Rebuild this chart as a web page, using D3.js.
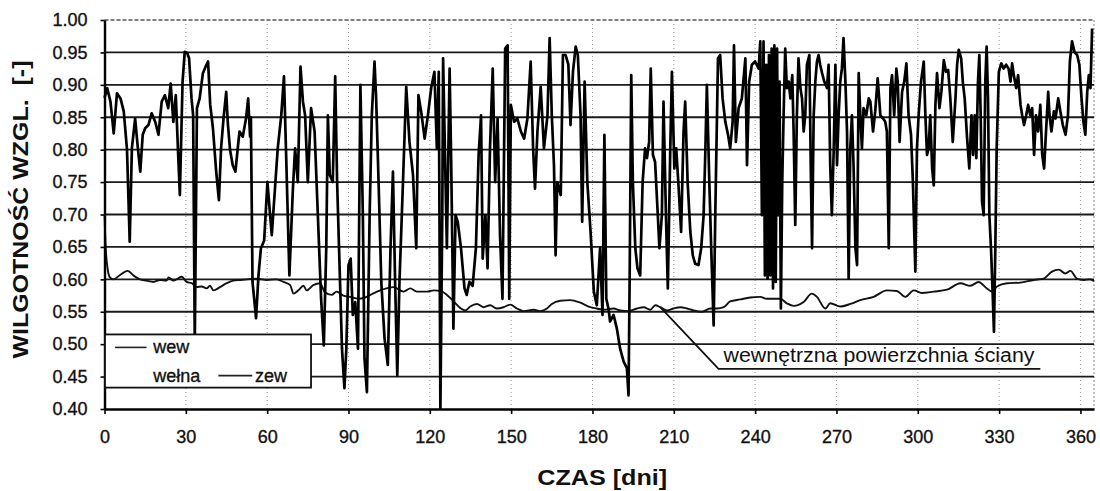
<!DOCTYPE html>
<html>
<head>
<meta charset="utf-8">
<script src="https://cdn.jsdelivr.net/npm/d3@7"></script>
<style>
  html, body { margin: 0; padding: 0; background: #fff; }
  svg { display: block; font-family: "Liberation Sans", Arial, sans-serif; }
  .scan-text { stroke: #111; stroke-width: 0.35px; }
</style>
</head>
<body>
<svg id="chart"></svg>
<script>
// ticks
const xTicks = [0, 30, 60, 90, 120, 150, 180, 210, 240, 270, 300, 330, 360];
const yTicks = [0.40, 0.45, 0.50, 0.55, 0.60, 0.65, 0.70, 0.75, 0.80, 0.85, 0.90, 0.95, 1.00];

// outdoor air relative humidity [day, RH]
const zew = [
  [0, 0.88], [1.0, 0.895], [2.2, 0.874], [3.4, 0.825], [4.6, 0.887], [5.9, 0.879], [7.1, 0.859], [8.3, 0.80],
  [9.3, 0.658], [10.1, 0.802], [11.3, 0.848], [12.2, 0.807], [13.2, 0.766], [14.1, 0.823], [15, 0.833], [16.2, 0.838],
  [17.4, 0.856], [18.7, 0.843], [19.9, 0.823], [21.1, 0.874], [22.3, 0.884], [23.5, 0.864], [24.4, 0.902], [25.4, 0.843],
  [26.3, 0.884], [27.2, 0.79], [27.8, 0.73], [28.8, 0.905], [29.6, 0.951], [30.5, 0.949], [31.2, 0.941], [32.1, 0.879],
  [32.7, 0.853], [33.3, 0.50], [34.1, 0.864], [35.1, 0.879], [36.3, 0.918], [37.6, 0.931], [38.2, 0.936], [39, 0.869],
  [40, 0.833], [41.2, 0.766], [42.2, 0.722], [43, 0.802], [43.9, 0.848], [44.9, 0.889], [45.5, 0.84], [46.3, 0.80],
  [47.3, 0.776], [48.3, 0.766], [49.1, 0.80], [49.8, 0.828], [51, 0.82], [52.2, 0.848], [53, 0.879], [53.7, 0.82],
  [54, 0.85], [54.6, 0.596], [55.9, 0.54], [56.8, 0.606], [57.7, 0.648], [58.9, 0.66], [60.1, 0.75], [61.7, 0.668],
  [63.9, 0.802], [65.2, 0.853], [66.2, 0.913], [67, 0.792], [68.2, 0.606], [69.5, 0.74], [70.3, 0.802], [71.3, 0.75],
  [72.3, 0.928], [73.2, 0.874], [74, 0.853], [75, 0.75], [76.2, 0.864], [77.5, 0.828], [78.7, 0.699], [79.9, 0.57],
  [80.9, 0.498], [81.8, 0.648], [82.4, 0.853], [83.1, 0.761], [84.2, 0.75], [85.1, 0.913], [85.8, 0.75], [86.7, 0.622],
  [87.6, 0.493], [88.5, 0.432], [89.2, 0.493], [90, 0.622], [90.8, 0.632], [91.6, 0.545], [92.5, 0.565], [93.5, 0.493],
  [94.4, 0.90], [95.3, 0.699], [95.9, 0.478], [96.8, 0.426], [97.8, 0.699], [98.6, 0.853], [99.6, 0.936], [100.2, 0.879],
  [101.1, 0.75], [102.1, 0.596], [103.3, 0.509], [104.5, 0.468], [105.5, 0.648], [106.4, 0.766], [107.2, 0.596], [108, 0.452],
  [108.8, 0.596], [110.1, 0.75], [111.3, 0.897], [112.5, 0.812], [113.8, 0.761], [115, 0.648], [115.8, 0.884], [116.8, 0.859],
  [118.1, 0.817], [119.3, 0.853], [120.5, 0.895], [121.7, 0.92], [122.6, 0.802], [123.3, 0.92], [123.9, 0.401], [124.6, 0.699],
  [124.9, 0.941], [125.8, 0.75], [126.3, 0.648], [127.3, 0.925], [127.9, 0.776], [128.7, 0.524], [129.5, 0.699], [130.3, 0.689],
  [131.5, 0.648], [132.8, 0.586], [133.6, 0.576], [134.6, 0.596], [135.8, 0.59], [137, 0.648], [138, 0.792], [138.9, 0.853],
  [139.5, 0.632], [140.5, 0.699], [141.3, 0.617], [142.2, 0.802], [143.2, 0.925], [144.1, 0.75], [145, 0.848], [145.9, 0.668],
  [146.8, 0.57], [147.8, 0.956], [148.7, 0.961], [149.3, 0.57], [149.9, 0.869], [151.1, 0.843], [152.3, 0.848], [153.6, 0.828],
  [154.8, 0.817], [156, 0.848], [157.2, 0.936], [158.1, 0.802], [158.8, 0.74], [159.7, 0.828], [160.9, 0.897], [162.1, 0.802],
  [163.4, 0.853], [164.2, 0.972], [165, 0.853], [165.8, 0.776], [166.4, 0.637], [167, 0.75], [168.3, 0.73], [169.1, 0.946],
  [170.1, 0.946], [171.1, 0.931], [171.9, 0.838], [172.8, 0.92], [173.8, 0.959], [174.6, 0.946], [175.6, 0.853], [176.2, 0.689],
  [177.1, 0.905], [178.1, 0.75], [179.3, 0.673], [180.5, 0.581], [181.6, 0.56], [182.8, 0.648], [183.7, 0.545], [184.4, 0.823],
  [185.1, 0.57], [185.9, 0.555], [186.5, 0.535], [187.8, 0.545], [189, 0.524], [190.2, 0.493], [191.5, 0.473], [192.7, 0.463],
  [193.3, 0.421], [193.7, 0.596], [194.3, 0.915], [194.9, 0.75], [195.8, 0.648], [196.6, 0.617], [197.6, 0.606], [198.5, 0.75],
  [199.4, 0.802], [200.1, 0.787], [200.9, 0.812], [201.5, 0.925], [202.3, 0.792], [203.1, 0.781], [204.1, 0.699], [204.7, 0.648],
  [205.6, 0.699], [206.2, 0.874], [207.1, 0.699], [207.8, 0.586], [208.7, 0.802], [209.3, 0.92], [210.2, 0.771], [210.9, 0.802],
  [211.8, 0.74], [212.7, 0.673], [213.6, 0.828], [214.2, 0.874], [215.1, 0.75], [216.1, 0.673], [217, 0.637], [217.9, 0.624],
  [219.1, 0.622], [220.1, 0.648], [221, 0.699], [221.6, 0.792], [222.2, 0.90], [223.1, 0.75], [223.8, 0.648], [224.7, 0.529],
  [225.3, 0.699], [226.3, 0.941], [227.1, 0.946], [228, 0.879], [229, 0.843], [230, 0.823], [230.8, 0.802], [231.7, 0.843],
  [232.2, 0.961], [232.9, 0.812], [233.9, 0.864], [235.1, 0.879], [236.4, 0.941], [237, 0.776], [237.8, 0.905], [238.8, 0.931],
  [240, 0.936], [241.3, 0.925], [241.9, 0.967], [242.5, 0.699], [243.1, 0.967], [243.6, 0.606], [244.1, 0.931], [244.6, 0.601],
  [245.1, 0.946], [245.6, 0.606], [246.1, 0.956], [246.6, 0.586], [247.1, 0.961], [247.6, 0.596], [248.1, 0.956], [248.5, 0.699],
  [249, 0.905], [249.5, 0.555], [250, 0.75], [250.5, 0.853], [251.1, 0.956], [251.7, 0.895], [252.4, 0.905], [253, 0.879],
  [253.7, 0.915], [254.2, 0.828], [254.8, 0.684], [255.4, 0.853], [256, 0.941], [256.7, 0.895], [257.3, 0.879], [257.9, 0.828],
  [258.5, 0.853], [259.1, 0.931], [260, 0.946], [260.6, 0.75], [261, 0.648], [261.6, 0.853], [262.2, 0.905], [262.8, 0.936],
  [263.4, 0.946], [264, 0.931], [264.7, 0.918], [265.5, 0.905], [266.5, 0.895], [267.1, 0.931], [267.7, 0.776], [268.3, 0.699],
  [269, 0.802], [269.6, 0.931], [270.2, 0.776], [270.8, 0.853], [271.4, 0.905], [272, 0.925], [272.6, 0.972], [273.3, 0.905],
  [273.9, 0.828], [274.5, 0.601], [275.1, 0.802], [275.7, 0.853], [276.3, 0.776], [277, 0.648], [277.6, 0.622], [278.2, 0.918],
  [278.8, 0.853], [279.4, 0.802], [280, 0.864], [281, 0.853], [281.9, 0.879], [282.5, 0.874], [283.5, 0.828], [284.3, 0.859],
  [285.2, 0.91], [286.2, 0.853], [287.2, 0.848], [288, 0.843], [288.6, 0.828], [289.3, 0.648], [289.9, 0.895], [290.5, 0.915],
  [291.3, 0.853], [292.1, 0.925], [292.6, 0.905], [293.3, 0.812], [294.2, 0.889], [295, 0.905], [295.8, 0.933], [296.6, 0.853],
  [297.5, 0.823], [298.2, 0.75], [299.1, 0.612], [299.7, 0.802], [300.3, 0.853], [301.2, 0.905], [302.2, 0.936], [302.8, 0.853],
  [303.4, 0.792], [304, 0.802], [304.6, 0.853], [305.3, 0.771], [305.9, 0.745], [306.5, 0.869], [307.1, 0.918], [308, 0.864],
  [308.7, 0.889], [309.6, 0.938], [310.4, 0.92], [311.2, 0.923], [312, 0.879], [312.9, 0.812], [313.9, 0.879], [314.5, 0.931],
  [315.1, 0.954], [316, 0.941], [316.6, 0.905], [317.3, 0.879], [318.2, 0.817], [319, 0.771], [319.8, 0.853], [320.4, 0.792],
  [321, 0.853], [321.6, 0.787], [322.2, 0.905], [322.7, 0.946], [323.2, 0.853], [323.7, 0.72], [324.3, 0.699], [324.9, 0.905],
  [325.4, 0.959], [325.9, 0.879], [326.4, 0.699], [327, 0.648], [327.6, 0.581], [328.1, 0.519], [328.6, 0.648], [329.1, 0.802],
  [329.9, 0.92], [330.8, 0.933], [331.7, 0.925], [332.6, 0.931], [333.5, 0.925], [334.2, 0.905], [334.8, 0.933], [335.4, 0.915],
  [336.3, 0.895], [337, 0.915], [337.9, 0.869], [338.5, 0.853], [339.2, 0.838], [340, 0.853], [340.7, 0.869], [341.5, 0.853],
  [342.2, 0.864], [342.9, 0.792], [343.6, 0.853], [344.4, 0.828], [345.2, 0.869], [345.9, 0.792], [346.6, 0.771], [347.3, 0.828],
  [348.1, 0.889], [348.6, 0.853], [349.3, 0.828], [350.2, 0.859], [350.8, 0.848], [351.8, 0.879], [352.6, 0.859], [353.5, 0.838],
  [354.5, 0.823], [355.4, 0.853], [356.1, 0.936], [356.9, 0.967], [357.8, 0.951], [358.8, 0.946], [359.6, 0.931], [360.4, 0.879],
  [361.1, 0.843], [361.8, 0.823], [362.5, 0.889], [363.1, 0.915], [363.7, 0.895], [364.3, 0.987]
];

// inner wall surface relative humidity [day, RH]
const wew = [
  [0, 0.70], [0.5, 0.645], [1.2, 0.615], [2, 0.603], [3.3, 0.600], [5.5, 0.606], [8.5, 0.613], [11, 0.605],
  [13.1, 0.600], [15.5, 0.598], [18, 0.596], [20.5, 0.599], [22.9, 0.598], [23.6, 0.603], [25.4, 0.598], [28.5, 0.604],
  [30.3, 0.596], [32.2, 0.594], [34, 0.588], [35.8, 0.589], [37.7, 0.586], [38.9, 0.59], [40.2, 0.583], [42.6, 0.588],
  [45.1, 0.594], [47.5, 0.598], [50, 0.599], [52.5, 0.600], [56.2, 0.601], [59.9, 0.599], [63.5, 0.600], [66, 0.596],
  [68.5, 0.591], [69.7, 0.578], [71.5, 0.583], [73.4, 0.590], [74.6, 0.583], [77, 0.591], [79.5, 0.594], [81.3, 0.58],
  [83.8, 0.576], [85.6, 0.581], [88.1, 0.575], [90.6, 0.573], [93.6, 0.570], [96.1, 0.572], [99, 0.578], [101.7, 0.583],
  [104, 0.586], [106.6, 0.588], [110.3, 0.581], [112.8, 0.586], [115.2, 0.581], [118.9, 0.581], [121.4, 0.583], [124.5, 0.581],
  [126.3, 0.576], [128.8, 0.566], [131.2, 0.556], [133.1, 0.552], [134.9, 0.558], [137.4, 0.562], [139.8, 0.557], [142.3, 0.560],
  [144.7, 0.555], [147.2, 0.557], [149.7, 0.561], [152.1, 0.555], [154.6, 0.551], [158.3, 0.553], [160.7, 0.551], [163.2, 0.555],
  [165, 0.562], [168.1, 0.567], [171.8, 0.568], [175.5, 0.564], [179.2, 0.557], [181.6, 0.555], [184.1, 0.553], [187.8, 0.555],
  [190.3, 0.552], [193.3, 0.551], [196.4, 0.555], [198.9, 0.557], [201.3, 0.553], [203.2, 0.560], [205, 0.557], [207.5, 0.552],
  [209.9, 0.555], [212.4, 0.557], [214.9, 0.555], [217.3, 0.552], [220.4, 0.550], [223.5, 0.555], [225.9, 0.555], [228.4, 0.557],
  [230.8, 0.566], [234.5, 0.569], [238.2, 0.572], [241.9, 0.573], [244.3, 0.570], [247, 0.570], [249.3, 0.570], [251.7, 0.563],
  [254.2, 0.559], [257.9, 0.565], [260.9, 0.578], [262.8, 0.573], [265.9, 0.555], [267.7, 0.563], [271.4, 0.558], [275.1, 0.562],
  [278.8, 0.568], [283.7, 0.573], [288.6, 0.583], [292.3, 0.582], [295.4, 0.573], [298.5, 0.583], [301.5, 0.579], [305.8, 0.581],
  [310.8, 0.584], [315.7, 0.594], [319.4, 0.590], [322.4, 0.596], [325.5, 0.586], [327.4, 0.581], [329.2, 0.589], [332.9, 0.594],
  [337.8, 0.595], [342.7, 0.599], [346.4, 0.601], [349.5, 0.612], [352, 0.615], [354.4, 0.609], [356.3, 0.613], [358.7, 0.601],
  [361.2, 0.599], [363.6, 0.600], [365, 0.597]
];

const legendItems = ['wew', 'wełna', 'zew'];
const annotationText = 'wewnętrzna powierzchnia ściany';
const annotation = { day: 205, value: 0.557, labelDay: 226.5, labelValue: 0.462, endDay: 345.2 };

const width = 1100, height = 491;
const margin = { top: 20, right: 6, bottom: 82, left: 104.5 };
const innerW = width - margin.left - margin.right;
const innerH = height - margin.top - margin.bottom;

const svg = d3.select('#chart').attr('width', width).attr('height', height);
const g = svg.append('g').attr('transform', `translate(${margin.left},${margin.top})`);

const x = d3.scaleLinear().domain([0, 365]).range([0, innerW]);
const y = d3.scaleLinear().domain([0.40, 1.00]).range([innerH, 0]);

// vertical dotted gridlines
g.append('g')
  .selectAll('line')
  .data(xTicks.filter(d => d > 0))
  .enter().append('line')
    .attr('x1', d => x(d)).attr('x2', d => x(d))
    .attr('y1', 0).attr('y2', innerH)
    .attr('stroke', '#9a9a9a')
    .attr('stroke-width', 1)
    .attr('stroke-dasharray', '1,3');

// right border (dotted)
g.append('line')
  .attr('x1', innerW).attr('x2', innerW)
  .attr('y1', 0).attr('y2', innerH)
  .attr('stroke', '#888').attr('stroke-dasharray', '2,2');

// horizontal gridlines
g.append('g')
  .selectAll('line')
  .data(yTicks.filter(d => d > 0.41 && d < 0.99))
  .enter().append('line')
    .attr('x1', 0).attr('x2', innerW)
    .attr('y1', d => y(d)).attr('y2', d => y(d))
    .attr('stroke', '#1a1a1a')
    .attr('stroke-width', 1.9);

// top border
g.append('line')
  .attr('x1', 0).attr('x2', innerW)
  .attr('y1', y(1)).attr('y2', y(1))
  .attr('stroke', '#555').attr('stroke-width', 1.4)
  .attr('stroke-dasharray', '4,2');

// series
g.append('path')
  .datum(wew)
  .attr('fill', 'none')
  .attr('stroke', '#111')
  .attr('stroke-width', 1.9)
  .attr('d', d3.line().x(d => x(d[0])).y(d => y(d[1])).curve(d3.curveMonotoneX));

g.append('path')
  .datum(zew)
  .attr('fill', 'none')
  .attr('stroke', '#000')
  .attr('stroke-width', 2.7)
  .attr('stroke-linejoin', 'round')
  .attr('d', d3.line().x(d => x(d[0])).y(d => y(d[1])));

// axes
const xAxis = g.append('g')
  .attr('transform', `translate(0,${innerH})`)
  .call(d3.axisBottom(x).tickValues(xTicks).tickSize(5).tickPadding(16).tickSizeOuter(0));
const yAxis = g.append('g')
  .call(d3.axisLeft(y).tickValues(yTicks).tickFormat(d3.format('.2f')).tickSize(4).tickPadding(13).tickSizeOuter(0));

[xAxis, yAxis].forEach(ax => {
  ax.select('.domain').attr('stroke', '#000').attr('stroke-width', 2.4);
  ax.selectAll('.tick line').attr('stroke', '#000').attr('stroke-width', 1.6);
  ax.selectAll('.tick text')
    .attr('class', 'scan-text')
    .attr('fill', '#111')
    .style('font-size', '18px')
    .style('font-family', '"Liberation Sans", Arial, sans-serif');
});

// legend
const legend = g.append('g');
legend.append('rect')
  .attr('x', 0.5).attr('y', y(0.515))
  .attr('width', x(76)).attr('height', y(0.433) - y(0.515))
  .attr('fill', '#fff').attr('stroke', '#111').attr('stroke-width', 1.8);

const rowY = [y(0.495), y(0.4515)];

legend.append('line')
  .attr('x1', x(3.9)).attr('x2', x(15.5))
  .attr('y1', rowY[0]).attr('y2', rowY[0])
  .attr('stroke', '#222').attr('stroke-width', 1.6);
legend.append('text')
  .attr('class', 'scan-text')
  .attr('x', x(18)).attr('y', rowY[0] + 6)
  .style('font-size', '18px').attr('fill', '#111')
  .text(legendItems[0]);

legend.append('text')
  .attr('class', 'scan-text')
  .attr('x', x(18)).attr('y', rowY[1] + 6)
  .style('font-size', '18px').attr('fill', '#111')
  .text(legendItems[1]);

legend.append('line')
  .attr('x1', x(42)).attr('x2', x(54.5))
  .attr('y1', rowY[1]).attr('y2', rowY[1])
  .attr('stroke', '#222').attr('stroke-width', 1.6);
legend.append('text')
  .attr('class', 'scan-text')
  .attr('x', x(55.5)).attr('y', rowY[1] + 6)
  .style('font-size', '18px').attr('fill', '#111')
  .text(legendItems[2]);

// annotation for inner surface
g.append('polyline')
  .attr('points', [
    [x(annotation.day), y(annotation.value)],
    [x(annotation.labelDay), y(annotation.labelValue)],
    [x(annotation.endDay), y(annotation.labelValue)]
  ].map(p => p.join(',')).join(' '))
  .attr('fill', 'none')
  .attr('stroke', '#111')
  .attr('stroke-width', 1.8);

g.append('text')
  .attr('x', x(annotation.labelDay) + 5)
  .attr('y', y(annotation.labelValue) - 7)
  .attr('textLength', 311)
  .attr('lengthAdjust', 'spacingAndGlyphs')
  .style('font-size', '20px')
  .attr('fill', '#111')
  .text(annotationText);

// axis titles
svg.append('text')
  .attr('x', margin.left + x(182.5) + 3)
  .attr('y', 485)
  .attr('text-anchor', 'middle')
  .attr('textLength', 130)
  .attr('lengthAdjust', 'spacingAndGlyphs')
  .style('font-size', '22px')
  .style('font-weight', 'bold')
  .attr('fill', '#111')
  .text('CZAS [dni]');

svg.append('text')
  .attr('transform', `translate(28,${margin.top + y(0.70) - 5}) rotate(-90)`)
  .attr('text-anchor', 'middle')
  .attr('textLength', 298)
  .attr('lengthAdjust', 'spacingAndGlyphs')
  .style('font-size', '22px')
  .style('font-weight', 'bold')
  .style('white-space', 'pre')
  .attr('fill', '#111')
  .text('WILGOTNOŚĆ WZGL.  [-]');
</script>
</body>
</html>
